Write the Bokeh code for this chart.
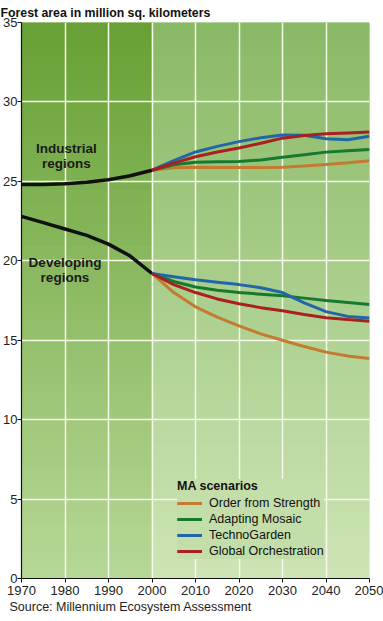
import numpy as np
from bokeh.plotting import figure
from bokeh.models import Title, Legend, LegendItem, Range1d, FixedTicker
from bokeh.core.properties import value
from bokeh.embed import file_html
from bokeh.resources import INLINE

# ---------------- data ----------------
years_hist = [1970, 1975, 1980, 1985, 1990, 1995, 2000]
industrial_hist = [24.8, 24.8, 24.85, 24.95, 25.1, 25.35, 25.7]
developing_hist = [22.8, 22.4, 22.0, 21.6, 21.05, 20.3, 19.2]

years_scen = [2000, 2005, 2010, 2015, 2020, 2025, 2030, 2035, 2040, 2045, 2050]
scenarios = ["Order from Strength", "Adapting Mosaic", "TechnoGarden", "Global Orchestration"]

industrial_scen = {
    "Order from Strength": [25.7, 25.85, 25.89, 25.88, 25.87, 25.87, 25.89, 25.96, 26.06, 26.17, 26.29],
    "Adapting Mosaic": [25.7, 26.05, 26.2, 26.24, 26.25, 26.35, 26.52, 26.68, 26.84, 26.93, 27.0],
    "TechnoGarden": [25.7, 26.3, 26.85, 27.2, 27.5, 27.75, 27.92, 27.9, 27.68, 27.62, 27.84],
    "Global Orchestration": [25.7, 26.15, 26.55, 26.85, 27.1, 27.4, 27.72, 27.88, 27.99, 28.05, 28.1],
}
developing_scen = {
    "Order from Strength": [19.2, 18.0, 17.1, 16.45, 15.9, 15.4, 15.0, 14.6, 14.25, 14.0, 13.85],
    "Adapting Mosaic": [19.2, 18.7, 18.35, 18.15, 18.0, 17.9, 17.8, 17.65, 17.5, 17.38, 17.25],
    "TechnoGarden": [19.2, 19.0, 18.8, 18.65, 18.5, 18.3, 18.0, 17.35, 16.8, 16.5, 16.4],
    "Global Orchestration": [19.2, 18.5, 18.0, 17.6, 17.3, 17.05, 16.86, 16.62, 16.42, 16.3, 16.2],
}
x_ticks = [1970, 1980, 1990, 2000, 2010, 2020, 2030, 2040, 2050]
y_ticks = [0, 5, 10, 15, 20, 25, 30, 35]

colors = {
    "Order from Strength": "#c47a30",
    "Adapting Mosaic": "#167a2e",
    "TechnoGarden": "#2266a8",
    "Global Orchestration": "#aa1f1f",
}

FONT = "Liberation Sans"

p = figure(width=383, height=621, output_backend="svg", toolbar_location=None,
           x_range=Range1d(1970, 2050), y_range=Range1d(0, 35),
           min_border_left=0, min_border_right=14, min_border_top=0, min_border_bottom=43)
p.outline_line_color = None
p.background_fill_color = "#ffffff"

# ---------------- gradient background ----------------
def lerp_hex(c1, c2, t):
    a = np.array([int(c1[i:i + 2], 16) for i in (1, 3, 5)], dtype=float)
    b = np.array([int(c2[i:i + 2], 16) for i in (1, 3, 5)], dtype=float)
    c = a + (b - a) * t
    return "#%02x%02x%02x" % tuple(int(round(v)) for v in c)

n = 70
edges = np.linspace(0, 35, n + 1)
bottoms = edges[:-1]
tops = edges[1:]
tmid = 1 - (bottoms + tops) / 2 / 35.0
left_cols = [lerp_hex("#67a034", "#b7d897", t) for t in tmid]
right_cols = [lerp_hex("#89b965", "#cde5b5", t) for t in tmid]
p.quad(left=[1970] * n, right=[2000] * n, bottom=bottoms, top=tops,
       fill_color=left_cols, line_color=left_cols, line_width=1, level="image")
p.quad(left=[2000] * n, right=[2050] * n, bottom=bottoms, top=tops,
       fill_color=right_cols, line_color=right_cols, line_width=1, level="image")

# ---------------- grid / axes ----------------
p.xaxis.ticker = FixedTicker(ticks=x_ticks)
p.yaxis.ticker = FixedTicker(ticks=y_ticks)
p.grid.grid_line_color = "#f6fbea"
p.grid.grid_line_width = 1.5
for ax in (p.xaxis, p.yaxis):
    ax.axis_line_color = "#111111"
    ax.axis_line_width = 1.2
    ax.major_tick_line_color = "#111111"
    ax.major_tick_in = 0
    ax.major_tick_out = 4
    ax.minor_tick_line_color = None
    ax.major_label_text_font = FONT
    ax.major_label_text_font_size = "13px"
    ax.major_label_text_color = "#222222"
p.yaxis.major_label_standoff = 0
p.xaxis.major_label_standoff = 3

# ---------------- lines ----------------
p.line(years_hist, industrial_hist, line_color="#111111", line_width=3.5)
p.line(years_hist, developing_hist, line_color="#111111", line_width=3.5)

items = []
for s in scenarios:
    r1 = p.line(years_scen, industrial_scen[s], line_color=colors[s], line_width=3)
    r2 = p.line(years_scen, developing_scen[s], line_color=colors[s], line_width=3)
    items.append(LegendItem(label=s, renderers=[r1, r2]))

# region labels
p.text(x=[1980.3, 1980.0], y=[26.6, 19.45], text=["Industrial\nregions", "Developing\nregions"],
       text_font=value(FONT), text_font_style="bold", text_font_size="13.5px",
       text_color="#1a1a1a", text_align="center", text_baseline="middle",
       text_line_height=1.0)

legend = Legend(items=items, location=(156, 19), title="MA scenarios")
legend.title_text_font = FONT
legend.title_text_font_style = "bold"
legend.title_text_font_size = "12.5px"
legend.title_text_color = "#111111"
legend.title_standoff = 2
legend.label_text_font = FONT
legend.label_text_font_size = "12.5px"
legend.label_text_color = "#111111"
legend.label_height = 16
legend.glyph_height = 16
legend.glyph_width = 25
legend.label_standoff = 7
legend.spacing = 0
legend.padding = 6
legend.margin = 0
legend.background_fill_color = "#c3dea8"
legend.background_fill_alpha = 1.0
legend.border_line_color = None
p.add_layout(legend)

# titles
p.add_layout(Title(text="Source: Millennium Ecosystem Assessment", align="left",
                   text_font=FONT, text_font_size="12.5px", text_font_style="normal",
                   text_color="#222222", offset=-12, standoff=0), "below")
p.add_layout(Title(text="Forest area in million sq. kilometers", align="left",
                   text_font=FONT, text_font_size="12.3px", text_font_style="bold",
                   text_color="#111111", offset=-21, standoff=6, text_line_height=0.9), "above")

open("out.html", "w").write(file_html(p, INLINE))
